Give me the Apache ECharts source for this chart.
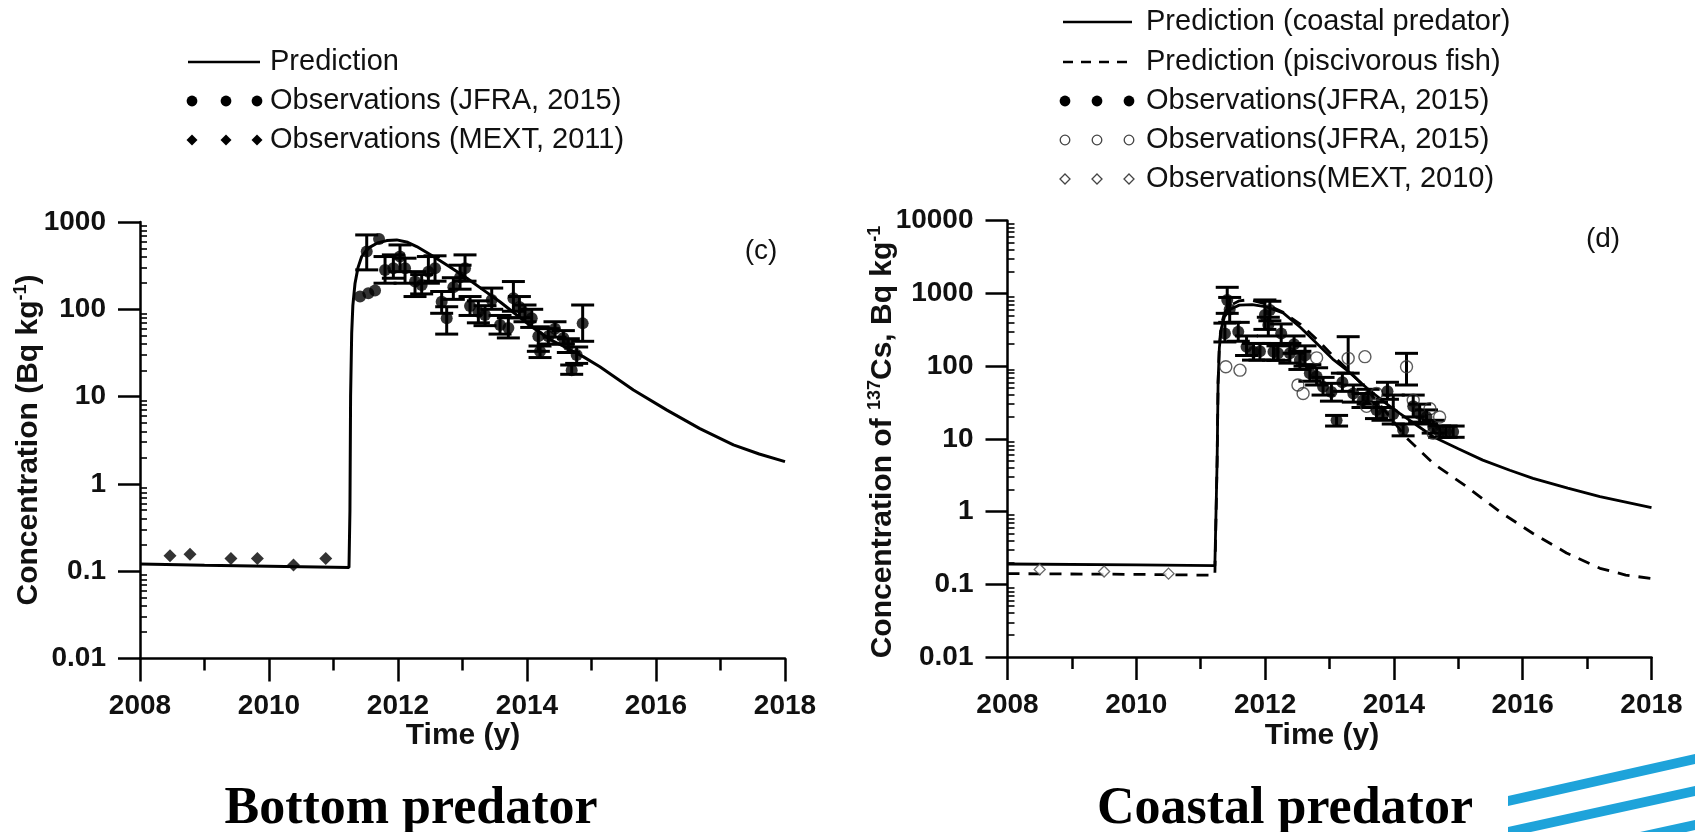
<!DOCTYPE html>
<html><head><meta charset="utf-8">
<script src="https://cdn.jsdelivr.net/npm/echarts@6/dist/echarts.min.js"></script>
<style>html,body{margin:0;padding:0;background:#fff}#c{width:1695px;height:832px}</style>
</head><body><div id="c"></div>
<script>
// ---------------- DATA ----------------
const xTicks = [2008, 2010, 2012, 2014, 2016, 2018];

// (c) Bottom predator
const predCYears = [2008, 2009, 2010, 2011.0, 2011.24, 2011.255, 2011.265, 2011.282, 2011.3, 2011.334, 2011.38, 2011.437, 2011.5, 2011.566, 2011.68, 2011.825, 2011.98, 2012.15, 2012.29, 2012.55, 2012.8, 2013.07, 2013.32, 2013.58, 2013.84, 2014.1, 2014.36, 2014.62, 2014.87, 2015.13, 2015.65, 2016.17, 2016.68, 2017.2, 2017.6, 2018];
const predCVals  = [0.121, 0.117, 0.114, 0.111, 0.11, 0.5, 10, 53, 110, 199, 300, 402, 465, 515, 575, 612, 624, 585, 523, 402, 308, 227, 167, 122, 86, 61, 45, 36, 28.7, 22, 11.9, 7.0, 4.3, 2.8, 2.2, 1.8];

const jfraCYears = [2011.515, 2011.706, 2011.411, 2011.54, 2011.644, 2011.799, 2011.928, 2012.031, 2012.109, 2012.264, 2012.367, 2012.471, 2012.574, 2012.677, 2012.755, 2012.858, 2012.962, 2013.039, 2013.117, 2013.246, 2013.349, 2013.453, 2013.582, 2013.711, 2013.789, 2013.882, 2013.969, 2014.073, 2014.176, 2014.202, 2014.331, 2014.434, 2014.564, 2014.641, 2014.693, 2014.77, 2014.863];
const jfraCVals  = [458, 640, 140, 153, 164, 282, 295, 402, 295, 208, 190, 270, 295, 122, 79, 179, 233, 295, 109, 94, 86, 128, 66, 61, 134, 106, 90, 79, 49, 33, 49, 60, 47, 39, 20, 30, 69];
const jfraCLow   = [283, null, null, null, null, 199, 227, 270, 199, 140, 150, 199, 210, 90, 52, 130, 170, 210, 85, 70, 65, 100, 52, 47, 95, 80, 72, 62, 33, 28, 40, 48, 40, 32, 18, 24, 43];
const jfraCHigh  = [711, null, null, null, null, 402, 420, 546, 385, 270, 250, 402, 410, 160, 107, 230, 320, 420, 140, 125, 110, 175, 85, 80, 208, 140, 112, 100, 63, 38, 60, 72, 57, 46, 23, 37, 112];

const mextCYears = [2008.465, 2008.775, 2009.41, 2009.82, 2010.38, 2010.88];
const mextCVals  = [0.150, 0.156, 0.14, 0.14, 0.118, 0.14];

// (d) Coastal predator
const predDYears = [2008, 2010, 2011.22, 2011.24, 2011.255, 2011.27, 2011.29, 2011.32, 2011.37, 2011.45, 2011.6, 2011.8, 2012.0, 2012.28, 2012.55, 2012.8, 2013.05, 2013.27, 2013.58, 2013.85, 2014.09, 2014.35, 2014.61, 2015.0, 2015.38, 2015.8, 2016.16, 2016.7, 2017.2, 2017.6, 2018];
const predDVals  = [0.19, 0.185, 0.18, 0.18, 5, 60, 180, 330, 480, 600, 690, 700, 660, 540, 340, 206, 125, 88, 50, 32, 22.4, 15.5, 10.7, 7.3, 5.1, 3.7, 2.86, 2.1, 1.6, 1.35, 1.13];

const fishDYears = [2008, 2010, 2011.22, 2011.24, 2011.255, 2011.27, 2011.29, 2011.32, 2011.37, 2011.45, 2011.6, 2011.75, 2012.0, 2012.28, 2012.55, 2012.8, 2013.05, 2013.27, 2013.58, 2013.85, 2014.2, 2014.61, 2015.13, 2015.64, 2016.16, 2016.68, 2017.2, 2017.6, 2018];
const fishDVals  = [0.14, 0.137, 0.133, 0.133, 5, 60, 200, 370, 540, 680, 790, 820, 720, 550, 375, 235, 140, 92, 48, 25, 10.2, 4.6, 2.2, 1.0, 0.5, 0.27, 0.166, 0.134, 0.12];

const jfraDYears = [2011.412, 2011.45, 2011.376, 2011.583, 2011.712, 2011.997, 2012.074, 2012.05, 2011.82, 2011.92, 2012.13, 2012.2, 2012.25, 2012.385, 2012.45, 2012.54, 2012.62, 2012.695, 2012.8, 2012.9, 2013.03, 2013.11, 2013.2, 2013.37, 2013.52, 2013.6, 2013.73, 2013.83, 2013.9, 2013.99, 2014.143, 2014.3, 2014.4, 2014.506, 2014.61, 2014.71, 2014.81, 2014.92];
const jfraDVals  = [812, 600, 282, 298, 185, 505, 591, 368, 158, 160, 158, 150, 280, 150, 200, 121, 140, 80, 72, 52, 44, 18, 60, 42, 34, 38, 25, 22, 45, 22, 13.2, 28, 22, 20, 14.7, 12.5, 12.5, 12.5];
const jfraDLow   = [532, 400, 215, 220, 140, 320, 420, 260, 121, 121, 121, 120, 200, 110, 150, 90, 100, 62, 55, 40, 33, 15, 45, 32, 27, 30, 19, 18, 35, 16, 11, 20, 17, 16, 12, 10.5, 10.5, 10.5];
const jfraDHigh  = [1213, 880, 390, 400, 260, 813, 780, 470, 205, 205, 205, 190, 380, 205, 260, 160, 190, 105, 95, 70, 58, 21, 80, 55, 42, 48, 32, 27, 60, 40, 16, 40, 30, 25, 18, 15, 15, 15];

const openDYears = [2011.39, 2011.61, 2012.51, 2012.59, 2012.8, 2013.29, 2013.55, 2013.73, 2013.575, 2014.196, 2014.3, 2014.56, 2014.71, 2014.61];
const openDVals  = [98, 88, 55, 42, 130, 128, 135, 42, 28, 98, 34, 26, 20, 11.9];
const openDLow   = [null, null, null, null, null, 80, null, null, null, 55, null, null, null, null];
const openDHigh  = [null, null, null, null, null, 254, null, null, null, 150, null, null, null, null];

const mextDYears = [2008.5, 2009.5, 2010.5];
const mextDVals  = [0.16, 0.15, 0.14];

// ---------------- HELPERS ----------------
const pairs = (xs, ys) => xs.map((x, i) => [x, ys[i]]);
const errTriples = (xs, lo, hi) => xs.map((x, i) => [x, lo[i], hi[i]]).filter(d => d[1] != null);
const FONT = 'Liberation Sans, Arial, sans-serif';
const BLACK = '#000';

function minorLogTicks(fromExp, toExp) {
  const out = [];
  for (let d = fromExp; d < toExp; d++) for (let k = 2; k <= 9; k++) out.push(d + Math.log10(k));
  return out;
}

function errItem(params, api) {
  const x = api.value(0), lo = api.value(1), hi = api.value(2);
  const a = api.coord([x, lo]), b = api.coord([x, hi]);
  const w = 11.5;
  const style = { stroke: BLACK, lineWidth: 3 };
  return { type: 'group', children: [
    { type: 'line', shape: { x1: a[0], y1: a[1], x2: b[0], y2: b[1] }, style },
    { type: 'line', shape: { x1: a[0] - w, y1: a[1], x2: a[0] + w, y2: a[1] }, style },
    { type: 'line', shape: { x1: b[0] - w, y1: b[1], x2: b[0] + w, y2: b[1] }, style }
  ]};
}

const tickLabel = { color: '#111', fontFamily: FONT, fontWeight: 'bold', fontSize: 28 };

function xAxisDef(gridIndex) {
  return {
    type: 'value', gridIndex, min: 2008, max: 2018, interval: 2,
    axisLine: { show: true, onZero: false, lineStyle: { color: BLACK, width: 2.5 } },
    axisTick: { show: true, inside: false, length: 23, lineStyle: { color: BLACK, width: 2.5 } },
    minorTick: { show: true, splitNumber: 2, length: 12, lineStyle: { color: BLACK, width: 2.5 } },
    splitLine: { show: false }, minorSplitLine: { show: false },
    axisLabel: Object.assign({ margin: 34, formatter: v => String(Math.round(v)) }, tickLabel)
  };
}
function yLogDef(gridIndex, min, max) {
  return {
    type: 'log', logBase: 10, gridIndex, min, max, position: 'left',
    axisLine: { show: true, onZero: false, lineStyle: { color: BLACK, width: 2.5 } },
    axisTick: { show: true, inside: false, length: 22, lineStyle: { color: BLACK, width: 2.5 } },
    splitLine: { show: false },
    axisLabel: Object.assign({ margin: 34, formatter: v => String(+Number(v).toPrecision(6)) }, tickLabel)
  };
}
// decoration-only axis that carries the inward minor ticks of the log axis (placed on the grid's left edge)
function yMinorDef(gridIndex, e0, e1, gridWidth) {
  return {
    type: 'value', gridIndex, min: e0, max: e1, position: 'right', offset: -gridWidth,
    axisLine: { show: false, onZero: false }, axisLabel: { show: false }, splitLine: { show: false },
    axisTick: { show: true, inside: false, length: 7, customValues: minorLogTicks(e0, e1), lineStyle: { color: BLACK, width: 1.6 } }
  };
}

// ---------------- GRAPHICS (titles, legends, labels) ----------------
const txt = (x, y, text, size) => ({
  type: 'text', x, y, silent: true,
  style: { text, fill: '#111', font: size + 'px ' + FONT, align: 'left', verticalAlign: 'middle' }
});
const circ = (x, y, filled) => ({ type: 'circle', shape: { cx: x, cy: y, r: filled ? 5.4 : 4.8 }, style: filled ? { fill: BLACK } : { fill: 'none', stroke: '#444', lineWidth: 1.3 }, silent: true });
const diam = (x, y, filled, r) => ({ type: 'polygon', shape: { points: [[x, y - r], [x + r, y], [x, y + r], [x - r, y]] }, style: filled ? { fill: BLACK } : { fill: 'none', stroke: '#444', lineWidth: 1.3 }, silent: true });

const supStyle = { fontSize: 18, fontWeight: 'bold', fontFamily: FONT, fill: '#111', verticalAlign: 'top', lineHeight: 18 };
const mainStyle = { fontSize: 30, fontWeight: 'bold', fontFamily: FONT, fill: '#111', lineHeight: 34 };
const captionFont = 'bold 52px "Liberation Serif", "Times New Roman", serif';

const graphics = [
  // left legend
  { type: 'line', shape: { x1: 188, y1: 62, x2: 260, y2: 62 }, style: { stroke: BLACK, lineWidth: 2.5 }, silent: true },
  txt(270, 62, 'Prediction', 29),
  circ(192, 101, true), circ(226, 101, true), circ(257, 101, true),
  txt(270, 101, 'Observations (JFRA, 2015)', 29),
  diam(192, 140, true, 5.5), diam(226, 140, true, 5.5), diam(257, 140, true, 5.5),
  txt(270, 140, 'Observations (MEXT, 2011)', 29),
  // right legend
  { type: 'line', shape: { x1: 1063, y1: 22, x2: 1132, y2: 22 }, style: { stroke: BLACK, lineWidth: 2.5 }, silent: true },
  txt(1146, 22, 'Prediction (coastal predator)', 29),
  { type: 'line', shape: { x1: 1063, y1: 62, x2: 1134, y2: 62 }, style: { stroke: BLACK, lineWidth: 2.5, lineDash: [10, 8] }, silent: true },
  txt(1146, 62, 'Prediction (piscivorous fish)', 29),
  circ(1065, 101, true), circ(1097, 101, true), circ(1129, 101, true),
  txt(1146, 101, 'Observations(JFRA, 2015)', 29),
  circ(1065, 140, false), circ(1097, 140, false), circ(1129, 140, false),
  txt(1146, 140, 'Observations(JFRA, 2015)', 29),
  diam(1065, 179, false, 5), diam(1097, 179, false, 5), diam(1129, 179, false, 5),
  txt(1146, 179, 'Observations(MEXT, 2010)', 29),
  // panel labels
  { type: 'text', x: 761, y: 251, silent: true, style: { text: '(c)', fill: '#111', font: '28px ' + FONT, align: 'center', verticalAlign: 'middle' } },
  { type: 'text', x: 1603, y: 239, silent: true, style: { text: '(d)', fill: '#111', font: '28px ' + FONT, align: 'center', verticalAlign: 'middle' } },
  // axis titles
  { type: 'text', x: 29, y: 440, rotation: Math.PI / 2, silent: true,
    style: { text: '{m|Concentration (Bq kg}{s|-1}{m|)}', align: 'center', verticalAlign: 'middle', rich: { m: mainStyle, s: supStyle } } },
  { type: 'text', x: 883, y: 442, rotation: Math.PI / 2, silent: true,
    style: { text: '{m|Concentration of }{s|137}{m|Cs, Bq kg}{s|-1}', align: 'center', verticalAlign: 'middle', rich: { m: mainStyle, s: supStyle } } },
  { type: 'text', x: 463, y: 736, silent: true, style: { text: 'Time (y)', fill: '#111', font: 'bold 30px ' + FONT, align: 'center', verticalAlign: 'middle' } },
  { type: 'text', x: 1322, y: 736, silent: true, style: { text: 'Time (y)', fill: '#111', font: 'bold 30px ' + FONT, align: 'center', verticalAlign: 'middle' } },
  // bottom captions
  { type: 'text', x: 411, y: 810, silent: true, style: { text: 'Bottom predator', fill: '#000', font: captionFont, align: 'center', verticalAlign: 'middle' } },
  { type: 'text', x: 1285, y: 810, silent: true, style: { text: 'Coastal predator', fill: '#000', font: captionFont, align: 'center', verticalAlign: 'middle' } },
  // decorative blue stripes (corner logo)
  { type: 'polygon', silent: true, shape: { points: [[1508, 796], [1695, 754], [1695, 764], [1508, 806]] }, style: { fill: '#1EA3DA' } },
  { type: 'polygon', silent: true, shape: { points: [[1508, 827], [1695, 786], [1695, 796], [1508, 837]] }, style: { fill: '#1EA3DA' } },
  { type: 'polygon', silent: true, shape: { points: [[1640, 832], [1695, 820], [1695, 830], [1660, 838]] }, style: { fill: '#1EA3DA' } }
];

// ---------------- CHART ----------------
const chart = echarts.init(document.getElementById('c'), null, { renderer: 'canvas' });
chart.setOption({
  backgroundColor: '#fff',
  animation: false,
  grid: [
    { left: 140, top: 222, width: 645, height: 436.5 },
    { left: 1007.5, top: 220.7, width: 644, height: 436.3 }
  ],
  xAxis: [xAxisDef(0), xAxisDef(1)],
  yAxis: [yLogDef(0, 0.01, 1000), yMinorDef(0, -2, 3, 645), yLogDef(1, 0.01, 10000), yMinorDef(1, -2, 4, 644)],
  graphic: graphics,
  series: [
    { name: 'Prediction', type: 'line', xAxisIndex: 0, yAxisIndex: 0, data: pairs(predCYears, predCVals), showSymbol: false, lineStyle: { color: BLACK, width: 3 }, z: 3 },
    { name: 'JFRA err c', type: 'custom', xAxisIndex: 0, yAxisIndex: 0, data: errTriples(jfraCYears, jfraCLow, jfraCHigh), renderItem: errItem, encode: { x: 0, y: [1, 2] }, z: 4 },
    { name: 'Observations (JFRA, 2015)', type: 'scatter', xAxisIndex: 0, yAxisIndex: 0, data: pairs(jfraCYears, jfraCVals), symbol: 'circle', symbolSize: 12, itemStyle: { color: BLACK }, z: 5 },
    { name: 'Observations (MEXT, 2011)', type: 'scatter', xAxisIndex: 0, yAxisIndex: 0, data: pairs(mextCYears, mextCVals), symbol: 'diamond', symbolSize: 13, itemStyle: { color: BLACK }, z: 5 },

    { name: 'Prediction (coastal predator)', type: 'line', xAxisIndex: 1, yAxisIndex: 2, data: pairs(predDYears, predDVals), showSymbol: false, lineStyle: { color: BLACK, width: 2.8 }, z: 3 },
    { name: 'Prediction (piscivorous fish)', type: 'line', xAxisIndex: 1, yAxisIndex: 2, data: pairs(fishDYears, fishDVals), showSymbol: false, lineStyle: { color: BLACK, width: 2.8, type: [12, 9] }, z: 3 },
    { name: 'JFRA err d', type: 'custom', xAxisIndex: 1, yAxisIndex: 2, data: errTriples(jfraDYears, jfraDLow, jfraDHigh).concat(errTriples(openDYears, openDLow, openDHigh)), renderItem: errItem, encode: { x: 0, y: [1, 2] }, z: 4 },
    { name: 'Observations(JFRA, 2015) open', type: 'scatter', xAxisIndex: 1, yAxisIndex: 2, data: pairs(openDYears, openDVals), symbol: 'circle', symbolSize: 12, itemStyle: { color: 'rgba(255,255,255,0)', borderColor: '#333', borderWidth: 1.4 }, z: 5 },
    { name: 'Observations(JFRA, 2015)', type: 'scatter', xAxisIndex: 1, yAxisIndex: 2, data: pairs(jfraDYears, jfraDVals), symbol: 'circle', symbolSize: 12, itemStyle: { color: BLACK }, z: 5 },
    { name: 'Observations(MEXT, 2010)', type: 'scatter', xAxisIndex: 1, yAxisIndex: 2, data: pairs(mextDYears, mextDVals), symbol: 'diamond', symbolSize: 11, itemStyle: { color: '#fff', borderColor: '#444', borderWidth: 1.3 }, z: 5 }
  ]
});
</script>
</body></html>
